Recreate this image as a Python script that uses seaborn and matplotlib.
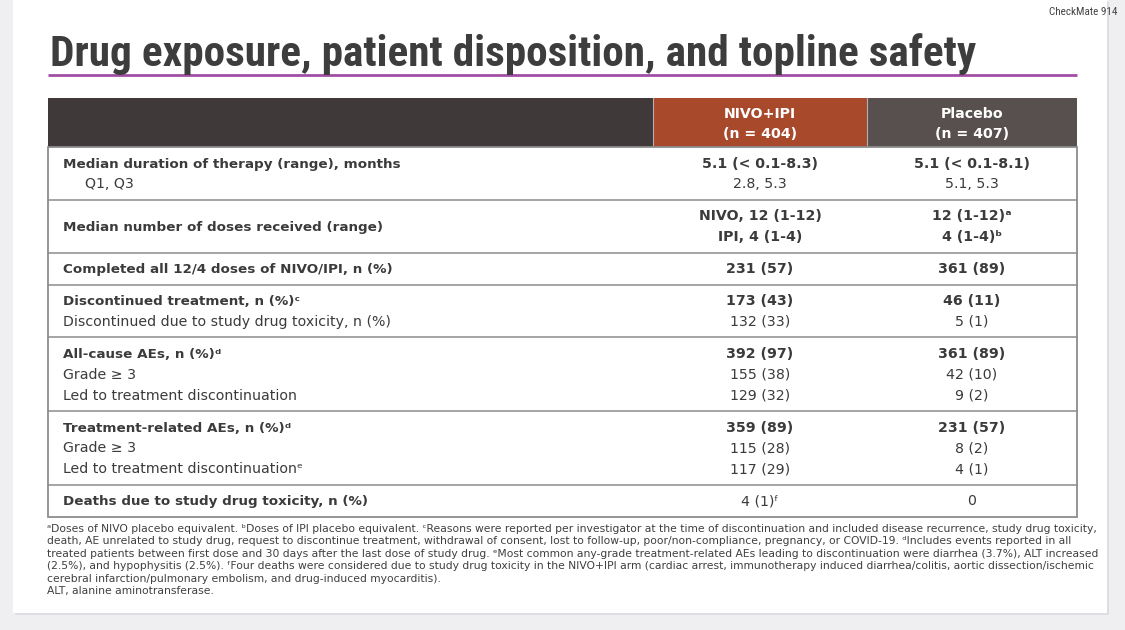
import matplotlib
matplotlib.use('Agg')
import matplotlib.pyplot as plt
import seaborn as sns
from matplotlib.patches import Rectangle
from matplotlib import font_manager as fm

# Estilo base
sns.set_theme(style='white')
plt.rcParams['font.family'] = ['DejaVu Sans', 'Noto Sans']

# Procura uma fonte estreita para o titulo
installed = {f.name for f in fm.fontManager.ttflist}
narrow_font, narrow_stretch = 'DejaVu Sans', 'normal'
for cand in ['Liberation Sans Narrow', 'Roboto Condensed', 'Open Sans Condensed',
             'Noto Sans Condensed', 'DejaVu Sans Condensed']:
    if cand in installed:
        narrow_font = cand
        break
else:
    if any(f.name == 'DejaVu Sans' and f.stretch == 'condensed' for f in fm.fontManager.ttflist):
        narrow_stretch = 'condensed'
    elif 'Roboto' in installed:
        narrow_font = 'Roboto'

# Dados da tabela
title = 'Drug exposure, patient disposition, and topline safety'
study_name = 'CheckMate 914'
col_headers = ['NIVO+IPI\n(n = 404)', 'Placebo\n(n = 407)']

row_labels = [
    ['Median duration of therapy (range), months', 'Q1, Q3'],
    ['Median number of doses received (range)'],
    ['Completed all 12/4 doses of NIVO/IPI, n (%)'],
    ['Discontinued treatment, n (%)ᶜ', 'Discontinued due to study drug toxicity, n (%)'],
    ['All-cause AEs, n (%)ᵈ', 'Grade ≥ 3', 'Led to treatment discontinuation'],
    ['Treatment-related AEs, n (%)ᵈ', 'Grade ≥ 3', 'Led to treatment discontinuationᵉ'],
    ['Deaths due to study drug toxicity, n (%)'],
]
nivo_values = [
    ['5.1 (< 0.1-8.3)', '2.8, 5.3'],
    ['NIVO, 12 (1-12)', 'IPI, 4 (1-4)'],
    ['231 (57)'],
    ['173 (43)', '132 (33)'],
    ['392 (97)', '155 (38)', '129 (32)'],
    ['359 (89)', '115 (28)', '117 (29)'],
    ['4 (1)ᶠ'],
]
placebo_values = [
    ['5.1 (< 0.1-8.1)', '5.1, 5.3'],
    ['12 (1-12)ᵃ', '4 (1-4)ᵇ'],
    ['361 (89)'],
    ['46 (11)', '5 (1)'],
    ['361 (89)', '42 (10)', '9 (2)'],
    ['231 (57)', '8 (2)', '4 (1)'],
    ['0'],
]
# quais linhas de valores ficam em negrito (por grupo)
value_bold = [
    [True, False],
    [True, True],
    [True],
    [True, False],
    [True, False, False],
    [True, False, False],
    [False],
]
indented_labels = ['Q1, Q3']

footnotes = [
    'ᵃDoses of NIVO placebo equivalent. ᵇDoses of IPI placebo equivalent. ᶜReasons were reported per investigator at the time of discontinuation and included disease recurrence, study drug toxicity,',
    'death, AE unrelated to study drug, request to discontinue treatment, withdrawal of consent, lost to follow-up, poor/non-compliance, pregnancy, or COVID-19. ᵈIncludes events reported in all',
    'treated patients between first dose and 30 days after the last dose of study drug. ᵉMost common any-grade treatment-related AEs leading to discontinuation were diarrhea (3.7%), ALT increased',
    '(2.5%), and hypophysitis (2.5%). ᶠFour deaths were considered due to study drug toxicity in the NIVO+IPI arm (cardiac arrest, immunotherapy induced diarrhea/colitis, aortic dissection/ischemic',
    'cerebral infarction/pulmonary embolism, and drug-induced myocarditis).',
    'ALT, alanine aminotransferase.',
]

# Cores
text_color = '#3b3b3b'
header_dark = '#3f3a39'
nivo_color = '#a8492c'
placebo_color = '#58504e'
grid_color = '#8c8c8c'

fig = plt.figure(figsize=(11.25, 6.3), dpi=100, facecolor='#efeff2')
ax = fig.add_axes([0, 0, 1, 1])
ax.set_xlim(0, 1125)
ax.set_ylim(630, 0)
ax.axis('off')

# Fundo do slide
ax.add_patch(Rectangle((15, 2), 1094, 613, fc='#dddde2', ec='none', zorder=0))
ax.add_patch(Rectangle((13, 0), 1094, 613, fc='white', ec='none', zorder=0.5))

# Titulo
ax.text(1117, 12, study_name, ha='right', va='center', fontsize=8,
        family=narrow_font, fontstretch=narrow_stretch, color='#444444')
title_txt = ax.text(50, 66, title, ha='left', va='baseline', fontsize=29, fontweight='bold',
                    family=narrow_font, fontstretch=narrow_stretch, color='#3d3d3d')
renderer = fig.canvas.get_renderer()
w = title_txt.get_window_extent(renderer).width
title_txt.set_fontsize(29 * 925 / w)
ax.plot([48, 1077], [75, 75], color='#a24ea6', lw=2, solid_capstyle='butt')

# Geometria da tabela
x_left, x_c1, x_c2, x_right = 48, 653, 867, 1077
header_top, header_bot = 98, 147
line_h = 20.9
pad = 5.5

ax.add_patch(Rectangle((x_left, header_top), x_right - x_left, header_bot - header_top,
                       fc=header_dark, ec='none', zorder=1))
ax.add_patch(Rectangle((x_c1, header_top), x_c2 - x_c1, header_bot - header_top,
                       fc=nivo_color, ec='none', zorder=1))
ax.add_patch(Rectangle((x_c2, header_top), x_right - x_c2, header_bot - header_top,
                       fc=placebo_color, ec='none', zorder=1))
for xv in (x_c1, x_c2):
    ax.plot([xv, xv], [header_top, header_bot], color='#b8b0ac', lw=0.8, zorder=2)

for cx, head in zip([(x_c1 + x_c2) / 2, (x_c2 + x_right) / 2], col_headers):
    ax.text(cx, (header_top + header_bot) / 2 + 1.5, head, ha='center', va='center',
            fontsize=10.2, fontweight='bold', color='white', linespacing=1.6, zorder=3)

label_bold_size = 9.7
body_font = 10.2
y = header_bot
boundaries = [y]
for labels, nv, pv, vb in zip(row_labels, nivo_values, placebo_values, value_bold):
    n_lines = max(len(labels), len(nv))
    row_h = 2 * pad + line_h * n_lines
    centers = [y + pad + line_h * (i + 0.5) for i in range(n_lines)]
    # rotulos
    label_centers = [y + row_h / 2] if len(labels) < n_lines else centers
    for i, (lab, cy) in enumerate(zip(labels, label_centers)):
        lx = 85 if lab in indented_labels else 63
        ax.text(lx, cy + 4.6, lab, ha='left', va='baseline',
                fontsize=label_bold_size if i == 0 else body_font,
                fontweight='bold' if i == 0 else 'normal', color=text_color, zorder=3)
    # valores
    for cx, vals in zip([(x_c1 + x_c2) / 2, (x_c2 + x_right) / 2], [nv, pv]):
        for val, cy, b in zip(vals, centers, vb):
            ax.text(cx, cy + 4.6, val, ha='center', va='baseline', fontsize=body_font,
                    fontweight='bold' if b else 'normal', color=text_color, zorder=3)
    y += row_h
    boundaries.append(y)

for yb in boundaries[1:-1]:
    ax.plot([x_left, x_right], [yb, yb], color=grid_color, lw=1.1, zorder=2)
ax.add_patch(Rectangle((x_left, header_bot), x_right - x_left, boundaries[-1] - header_bot,
                       fc='none', ec=grid_color, lw=1.3, zorder=2))

# Notas de rodape
for i, note in enumerate(footnotes):
    ax.text(47, 529 + 12.4 * i, note, ha='left', va='center', fontsize=7.75,
            color='#3f3f3f', zorder=3)

fig.savefig('out.png', dpi=100, facecolor=fig.get_facecolor())
plt.close(fig)
